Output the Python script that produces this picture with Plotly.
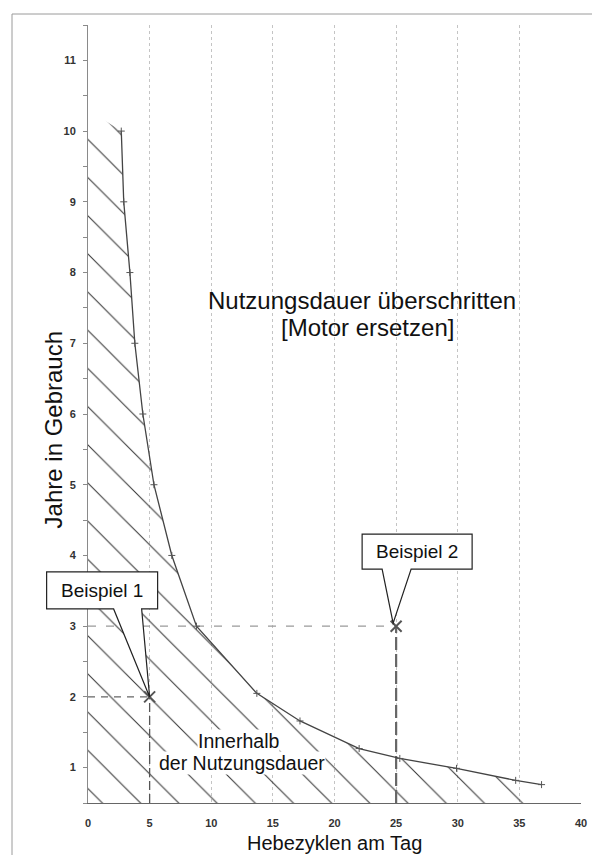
import plotly.graph_objects as go

# ---------------- data ----------------
cycles = [2.7, 2.9, 3.4, 3.8, 4.45, 5.35, 6.8, 8.8, 13.7, 17.2, 22.0, 25.3, 29.9, 34.7, 36.8]
years = [10, 9, 8, 7, 6, 5, 4, 3, 2.05, 1.66, 1.27, 1.13, 0.99, 0.82, 0.76]

hatch_top_at_zero = 10.3          # upper end of the hatched area on the y axis

x_ticks = [0, 5, 10, 15, 20, 25, 30, 35, 40]
y_ticks = [1, 2, 3, 4, 5, 6, 7, 8, 9, 10, 11]

example_cycles = [5, 25]
example_years = [2, 3]
example_labels = ["Beispiel 1", "Beispiel 2"]

X_RANGE = [0, 40]
Y_RANGE = [0.5, 11.5]

x_title = "Hebezyklen am Tag"
y_title = "Jahre in Gebrauch"
over_text = ["Nutzungsdauer überschritten", "[Motor ersetzen]"]
inside_text = ["Innerhalb", "der Nutzungsdauer"]

FONT = "Liberation Sans, Arial, Helvetica, sans-serif"

fig = go.Figure()

# hatched area below the curve
fill_x = [0] + cycles + [cycles[-1], 0, 0]
fill_y = [hatch_top_at_zero] + years + [Y_RANGE[0], Y_RANGE[0], hatch_top_at_zero]
fig.add_trace(go.Scatter(
    x=fill_x, y=fill_y, mode="lines", fill="toself",
    line=dict(width=0, color="rgba(0,0,0,0)"),
    fillcolor="rgba(0,0,0,0)",
    fillpattern=dict(shape="\\", size=27, solidity=0.04,
                     fgcolor="#383838", fgopacity=1, bgcolor="rgba(0,0,0,0)"),
    hoverinfo="skip", showlegend=False))

# guide lines for the examples
dash_h = ["7px,6px", "8px,10px"]
dash_v = ["9px,4px", "13px,4px"]
col_h = ["#666666", "#9a9a9a"]
col_v = ["#555555", "#666666"]
w_v = [1.3, 2.2]
for i, (ex, ey) in enumerate(zip(example_cycles, example_years)):
    fig.add_trace(go.Scatter(x=[X_RANGE[0], ex], y=[ey, ey], mode="lines",
                             line=dict(color=col_h[i], width=1.2, dash=dash_h[i]),
                             hoverinfo="skip", showlegend=False))
    fig.add_trace(go.Scatter(x=[ex, ex], y=[Y_RANGE[0], ey], mode="lines",
                             line=dict(color=col_v[i], width=w_v[i], dash=dash_v[i]),
                             hoverinfo="skip", showlegend=False))

# limit curve
fig.add_trace(go.Scatter(
    x=cycles, y=years, mode="lines+markers",
    line=dict(color="#444444", width=1.3),
    marker=dict(symbol="cross-thin", size=5, line=dict(color="#555555", width=1)),
    showlegend=False))

# example points
fig.add_trace(go.Scatter(
    x=example_cycles, y=example_years, mode="markers",
    marker=dict(symbol="x-thin", size=11, line=dict(color="#555555", width=2)),
    showlegend=False))

# speech bubbles (pixel geometry relative to each example point)
bubbles = [
    dict(l=-103, r=8, b=88, t=125, bl=-36, br=-8, tx=0, ty=0),
    dict(l=-34, r=76, b=57, t=92, bl=-14, br=15, tx=-3, ty=3),
]
shapes = []
annotations = []
for ex, ey, lab, g in zip(example_cycles, example_years, example_labels, bubbles):
    # anchor in paper fractions (computed from the data point) so the bubble is not clipped
    ax_frac = (ex - X_RANGE[0]) / (X_RANGE[1] - X_RANGE[0])
    ay_frac = (ey - Y_RANGE[0]) / (Y_RANGE[1] - Y_RANGE[0])
    path = (f"M{g['l']},{g['t']} L{g['r']},{g['t']} L{g['r']},{g['b']} "
            f"L{g['br']},{g['b']} L{g['tx']},{g['ty']} L{g['bl']},{g['b']} "
            f"L{g['l']},{g['b']} Z")
    shapes.append(dict(type="path", xref="paper", yref="paper",
                       xsizemode="pixel", ysizemode="pixel",
                       xanchor=ax_frac, yanchor=ay_frac, path=path,
                       fillcolor="white", line=dict(color="#222222", width=1.2),
                       layer="above"))
    annotations.append(dict(x=ex, y=ey, xref="x", yref="y",
                            xshift=(g['l'] + g['r']) / 2, yshift=(g['b'] + g['t']) / 2,
                            text=lab, showarrow=False, xanchor="center", yanchor="middle",
                            font=dict(family=FONT, size=19, color="#111111")))

# outer frame (pixel offsets from the plot-area corner)
shapes.append(dict(type="rect", xref="paper", yref="paper",
                   xsizemode="pixel", ysizemode="pixel", xanchor=0, yanchor=0,
                   x0=-76, x1=505, y0=-60, y1=789,
                   line=dict(color="#9a9a9a", width=1), layer="below"))

# region texts
annotations += [
    dict(x=22.2, y=7.6, xref="x", yref="y", text=over_text[0], showarrow=False,
         font=dict(family=FONT, size=24, color="#111111")),
    dict(x=22.7, y=7.22, xref="x", yref="y", text=over_text[1], showarrow=False,
         font=dict(family=FONT, size=24, color="#111111")),
    dict(x=12.2, y=1.38, xref="x", yref="y", text=inside_text[0], showarrow=False,
         bgcolor="white", borderpad=0,
         font=dict(family=FONT, size=19.5, color="#111111")),
    dict(x=12.5, y=1.07, xref="x", yref="y", text=inside_text[1], showarrow=False,
         bgcolor="white", borderpad=0,
         font=dict(family=FONT, size=19.5, color="#111111")),
    # axis titles
    dict(x=0.5, y=-0.052, xref="paper", yref="paper", text=x_title, showarrow=False,
         xanchor="center", yanchor="middle",
         font=dict(family=FONT, size=20, color="#111111")),
    dict(x=-0.0709, y=0.479, xref="paper", yref="paper", text=y_title, showarrow=False,
         textangle=-90, xanchor="center", yanchor="middle",
         font=dict(family=FONT, size=24, color="#111111")),
]

fig.update_layout(
    width=592, height=855,
    margin=dict(l=88, r=5, t=25, b=52),
    paper_bgcolor="white", plot_bgcolor="white",
    shapes=shapes, annotations=annotations,
    showlegend=False,
    xaxis=dict(range=X_RANGE, tickmode="array", tickvals=x_ticks,
               showgrid=True, gridcolor="#c4c4c4", griddash="dot", gridwidth=1,
               zeroline=False, showline=True, linecolor="#666666", linewidth=1,
               ticks="", ticklabelstandoff=10, ticklabeloverflow="allow",
               tickfont=dict(family=FONT, size=11, color="#333333", weight="bold")),
    yaxis=dict(range=Y_RANGE, tickmode="array", tickvals=y_ticks,
               showgrid=False, zeroline=False, showline=True,
               linecolor="#8a8a8a", linewidth=1,
               ticks="outside", ticklen=4, tickcolor="#8a8a8a", ticklabelstandoff=5,
               minor=dict(dtick=0.5, tick0=0.5, ticks="outside", ticklen=4, tickcolor="#8a8a8a"),
               tickfont=dict(family=FONT, size=11, color="#333333", weight="bold")),
)

fig.write_html("out.html", config={"displayModeBar": False},
               post_script="document.body.style.margin='0px';document.body.style.overflow='hidden';")
